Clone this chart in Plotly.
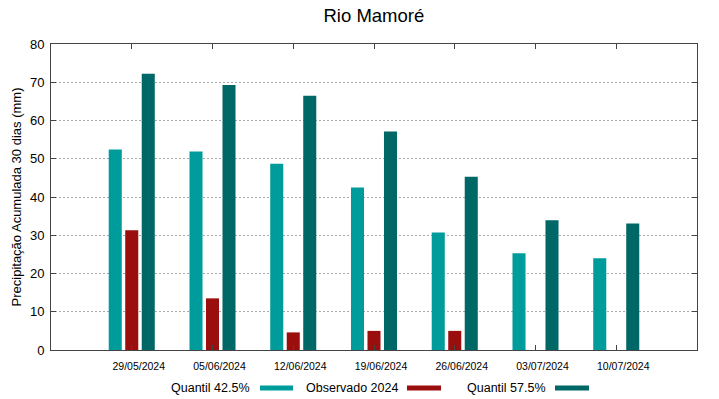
import plotly.graph_objects as go

categories = ["29/05/2024", "05/06/2024", "12/06/2024", "19/06/2024",
              "26/06/2024", "03/07/2024", "10/07/2024"]
quantil_425 = [52.4, 51.9, 48.7, 42.5, 30.7, 25.3, 24.0]
observado_2024 = [31.3, 13.5, 4.6, 5.0, 5.0, None, None]
quantil_575 = [72.2, 69.3, 66.5, 57.1, 45.3, 33.9, 33.1]

names = ["Quantil 42.5%", "Observado 2024", "Quantil 57.5%"]
colors = ["#009b9b", "#9a0e0e", "#006767"]
series = [quantil_425, observado_2024, quantil_575]

FONT = "Liberation Sans, Arial, sans-serif"

fig = go.Figure()
for name, vals, col in zip(names, series, colors):
    fig.add_trace(go.Bar(x=categories, y=vals, name=name, marker_color=col,
                         marker_line_width=0, showlegend=False))

fig.update_layout(
    width=719, height=399,
    margin=dict(l=51, r=22, t=44, b=49),
    paper_bgcolor="white", plot_bgcolor="white",
    barmode="group", bargap=0.387, bargroupgap=0.21,
    font=dict(family=FONT, color="#000000"),
    title=dict(text="Rio Mamoré", x=0.52, xanchor="center", y=0.962, yanchor="middle",
               font=dict(size=18.5, family=FONT, color="#000")),
)

fig.update_xaxes(
    type="category", range=[-1, 7], automargin=False,
    showline=True, linecolor="#444", linewidth=1, mirror="ticks",
    ticks="inside", ticklen=5, tickcolor="#444",
    showgrid=False, tickfont=dict(size=10.5, family=FONT, color="#000"),
    ticklabelshift=7, ticklabelstandoff=6,
)
fig.update_yaxes(
    range=[0, 80], dtick=10, automargin=False,
    showline=True, linecolor="#444", linewidth=1, mirror="ticks",
    ticks="inside", ticklen=5, tickcolor="#444",
    showgrid=True, gridcolor="#a8a8a8", griddash="2px,2px", gridwidth=1,
    zeroline=False, ticklabelstandoff=3,
    tickfont=dict(size=13, family=FONT, color="#000"),
    title=dict(text="Precipitação Acumulada 30 dias (mm)", standoff=5,
               font=dict(size=13, family=FONT, color="#000")),
)

# gnuplot-style legend: text followed by sample line
plot_w = 719 - 51 - 22
plot_h = 399 - 44 - 49
leg_y = (350 - 388) / plot_h
half = 2.5 / plot_h
text_right_px = [252, 400, 548]
swatch_px = [(260, 293), (407, 441), (555, 589)]
for name, col, tr, (s0, s1) in zip(names, colors, text_right_px, swatch_px):
    fig.add_annotation(text=name, xref="paper", yref="paper",
                       x=(tr - 51) / plot_w, y=leg_y, xanchor="right", yanchor="middle",
                       showarrow=False, font=dict(size=12.5, family=FONT, color="#000"))
    fig.add_shape(type="rect", xref="paper", yref="paper",
                  x0=(s0 - 51) / plot_w, x1=(s1 - 51) / plot_w,
                  y0=leg_y - half, y1=leg_y + half,
                  fillcolor=col, line_width=0)

fig.write_html("out.html", config={"displayModeBar": False},
               post_script="document.body.style.margin='0';")
